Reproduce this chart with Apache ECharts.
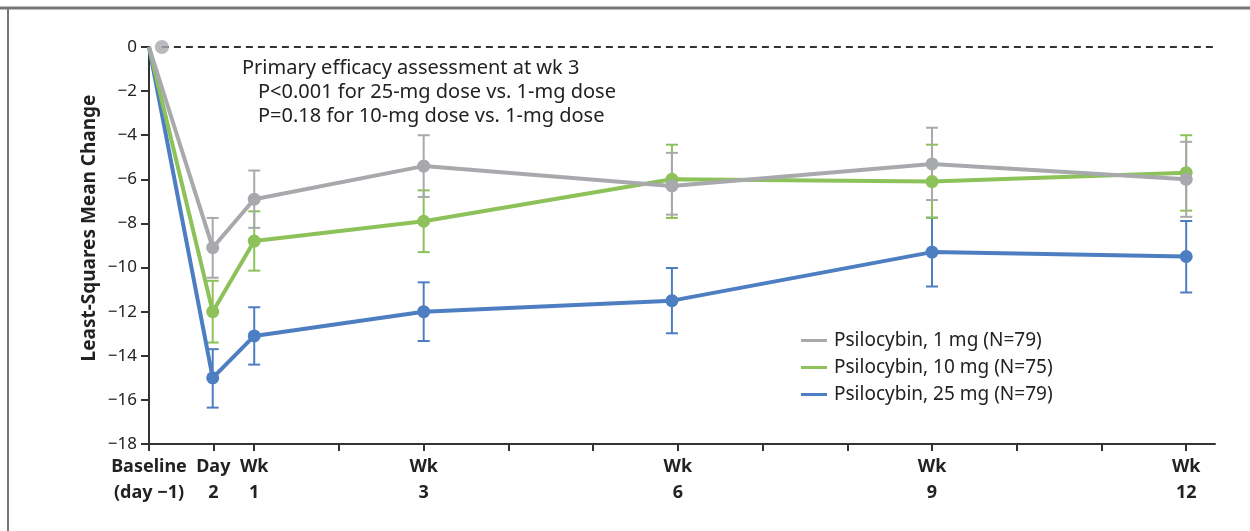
<!DOCTYPE html>
<html>
<head>
<meta charset="utf-8">
<script src="https://cdn.jsdelivr.net/npm/echarts@6/dist/echarts.min.js"></script>
<style>
html,body{margin:0;padding:0;background:#fff;}
#chart{width:1250px;height:531px;}
</style>
</head>
<body>
<div id="chart"></div>
<script>
// Time positions (in weeks) of the visits as drawn on the axis
const visitPos = [-0.242, 0.51, 1, 3, 5.93, 9, 12];
// Tick positions on the x axis and their labels
const tickPos = [-0.242, 0.517, 1, 2, 3, 4, 5, 6, 7, 8, 9, 10, 11, 12];
const labelPos = [-0.242, 0.517, 1, 3, 6, 9, 12];
const labelText = ['Baseline\n(day \u22121)', 'Day\n2', 'Wk\n1', 'Wk\n3', 'Wk\n6', 'Wk\n9', 'Wk\n12'];

const seriesNames = ['Psilocybin, 1 mg (N=79)', 'Psilocybin, 10 mg (N=75)', 'Psilocybin, 25 mg (N=79)'];
// Least-squares mean change at each visit
const mean1 = [0, -9.1, -6.9, -5.4, -6.3, -5.3, -6.0];
const mean10 = [0, -12.0, -8.8, -7.9, -6.0, -6.1, -5.7];
const mean25 = [0, -15.0, -13.1, -12.0, -11.5, -9.3, -9.5];
// Error-bar ends (upper, lower), null at baseline
const hi1 = [null, -7.75, -5.6, -4.0, -4.8, -3.66, -4.3];
const lo1 = [null, -10.46, -8.2, -6.8, -7.6, -6.94, -7.7];
const hi10 = [null, -10.6, -7.45, -6.5, -4.43, -4.43, -4.0];
const lo10 = [null, -13.4, -10.14, -9.3, -7.75, -7.74, -7.42];
const hi25 = [null, -13.7, -11.8, -10.67, -10.02, -7.74, -7.89];
const lo25 = [null, -16.35, -14.4, -13.33, -12.98, -10.86, -11.13];

const baselineDotPos = -0.09;
const refLineEnd = 12.48;

const colors = ['#a8a9ad', '#8dc159', '#4d7ec2'];
const FONT = '"Noto Sans", "Open Sans", sans-serif';

function lineData(means) {
  return means.map((v, i) => i === 0 ? {value: [visitPos[i], v], symbol: 'none'} : {value: [visitPos[i], v]});
}
function errData(hi, lo) {
  const out = [];
  for (let i = 0; i < hi.length; i++) if (hi[i] !== null) out.push([visitPos[i], hi[i], lo[i]]);
  return out;
}
function errSeries(name, hi, lo, color, z) {
  return {
    type: 'custom', name: name, z: z,
    itemStyle: {color: color},
    data: errData(hi, lo),
    encode: {x: 0, y: [1, 2]},
    renderItem: function (params, api) {
      const top = api.coord([api.value(0), api.value(1)]);
      const bot = api.coord([api.value(0), api.value(2)]);
      const hw = 6;
      const st = {stroke: color, lineWidth: 2};
      return {type: 'group', children: [
        {type: 'line', shape: {x1: top[0], y1: top[1], x2: bot[0], y2: bot[1]}, style: st},
        {type: 'line', shape: {x1: top[0] - hw, y1: top[1], x2: top[0] + hw, y2: top[1]}, style: st},
        {type: 'line', shape: {x1: bot[0] - hw, y1: bot[1], x2: bot[0] + hw, y2: bot[1]}, style: st}
      ]};
    }
  };
}
function lineSeries(name, means, color, z) {
  return {
    type: 'line', name: name, z: z,
    data: lineData(means),
    symbol: 'circle', symbolSize: 13,
    lineStyle: {color: color, width: 4},
    itemStyle: {color: color},
    emphasis: {disabled: true},
    animation: false
  };
}

const chart = echarts.init(document.getElementById('chart'));
chart.setOption({
  animation: false,
  backgroundColor: '#fff',
  grid: {left: 149, right: 35, top: 47, bottom: 87, containLabel: false},
  xAxis: {
    type: 'value', min: -0.242, max: 12.34,
    axisLine: {show: true, onZero: false, lineStyle: {color: '#333', width: 2}},
    splitLine: {show: false},
    axisTick: {show: true, length: 7, customValues: tickPos, lineStyle: {color: '#333', width: 2}},
    axisLabel: {
      customValues: labelPos, showMinLabel: true, showMaxLabel: true,
      margin: 10, color: '#222', fontFamily: FONT, fontWeight: 'bold', fontSize: 18, lineHeight: 26,
      formatter: function (v) {
        for (let i = 0; i < labelPos.length; i++) if (Math.abs(labelPos[i] - v) < 1e-6) return labelText[i];
        return '';
      }
    }
  },
  yAxis: {
    type: 'value', min: -18, max: 0, interval: 2,
    axisLine: {show: true, onZero: false, lineStyle: {color: '#333', width: 2}},
    axisTick: {show: true, length: 8, lineStyle: {color: '#333', width: 2}},
    splitLine: {show: false},
    axisLabel: {
      margin: 12, color: '#222', fontFamily: FONT, fontSize: 17,
      formatter: function (v) { return v < 0 ? '\u2212' + (-v) : String(v); }
    }
  },
  legend: {
    orient: 'vertical', left: 796, top: 326,
    icon: 'rect', itemWidth: 26, itemHeight: 3, itemGap: 8,
    textStyle: {fontFamily: FONT, fontSize: 19, color: '#222', padding: [0, 0, 0, 2]},
    data: seriesNames.map(n => ({name: n}))
  },
  graphic: [
    {type: 'line', shape: {x1: 0, y1: 8, x2: 1250, y2: 8}, style: {stroke: '#777', lineWidth: 3}},
    {type: 'line', shape: {x1: 8, y1: 8, x2: 8, y2: 531}, style: {stroke: '#777', lineWidth: 2}},
    {type: 'text', left: 242, top: 58, style: {text: 'Primary efficacy assessment at wk 3', font: '20px ' + FONT, fill: '#222'}},
    {type: 'text', left: 258, top: 82, style: {text: 'P<0.001 for 25-mg dose vs. 1-mg dose', font: '20px ' + FONT, fill: '#222'}},
    {type: 'text', left: 258, top: 106, style: {text: 'P=0.18 for 10-mg dose vs. 1-mg dose', font: '20px ' + FONT, fill: '#222'}},
    {type: 'text', x: 90, y: 228, rotation: Math.PI / 2,
     style: {text: 'Least-Squares Mean Change', font: 'bold 19px ' + FONT, fill: '#222', textAlign: 'center', textVerticalAlign: 'middle'}}
  ],
  series: [
    {
      type: 'line', name: 'ref', z: 1, clip: false, silent: true,
      data: [[baselineDotPos, 0], [refLineEnd, 0]],
      symbol: 'none',
      lineStyle: {color: '#333', width: 2, type: [7, 5]}
    },
    {
      type: 'scatter', name: 'baseline', z: 8, clip: false, silent: true,
      data: [[baselineDotPos, 0]], symbol: 'circle', symbolSize: 14,
      itemStyle: {color: colors[0]}
    },
    errSeries(seriesNames[2], hi25, lo25, colors[2], 2),
    errSeries(seriesNames[1], hi10, lo10, colors[1], 2),
    errSeries(seriesNames[0], hi1, lo1, colors[0], 2),
    lineSeries(seriesNames[2], mean25, colors[2], 3),
    lineSeries(seriesNames[1], mean10, colors[1], 4),
    lineSeries(seriesNames[0], mean1, colors[0], 5)
  ]
});
</script>
</body>
</html>
